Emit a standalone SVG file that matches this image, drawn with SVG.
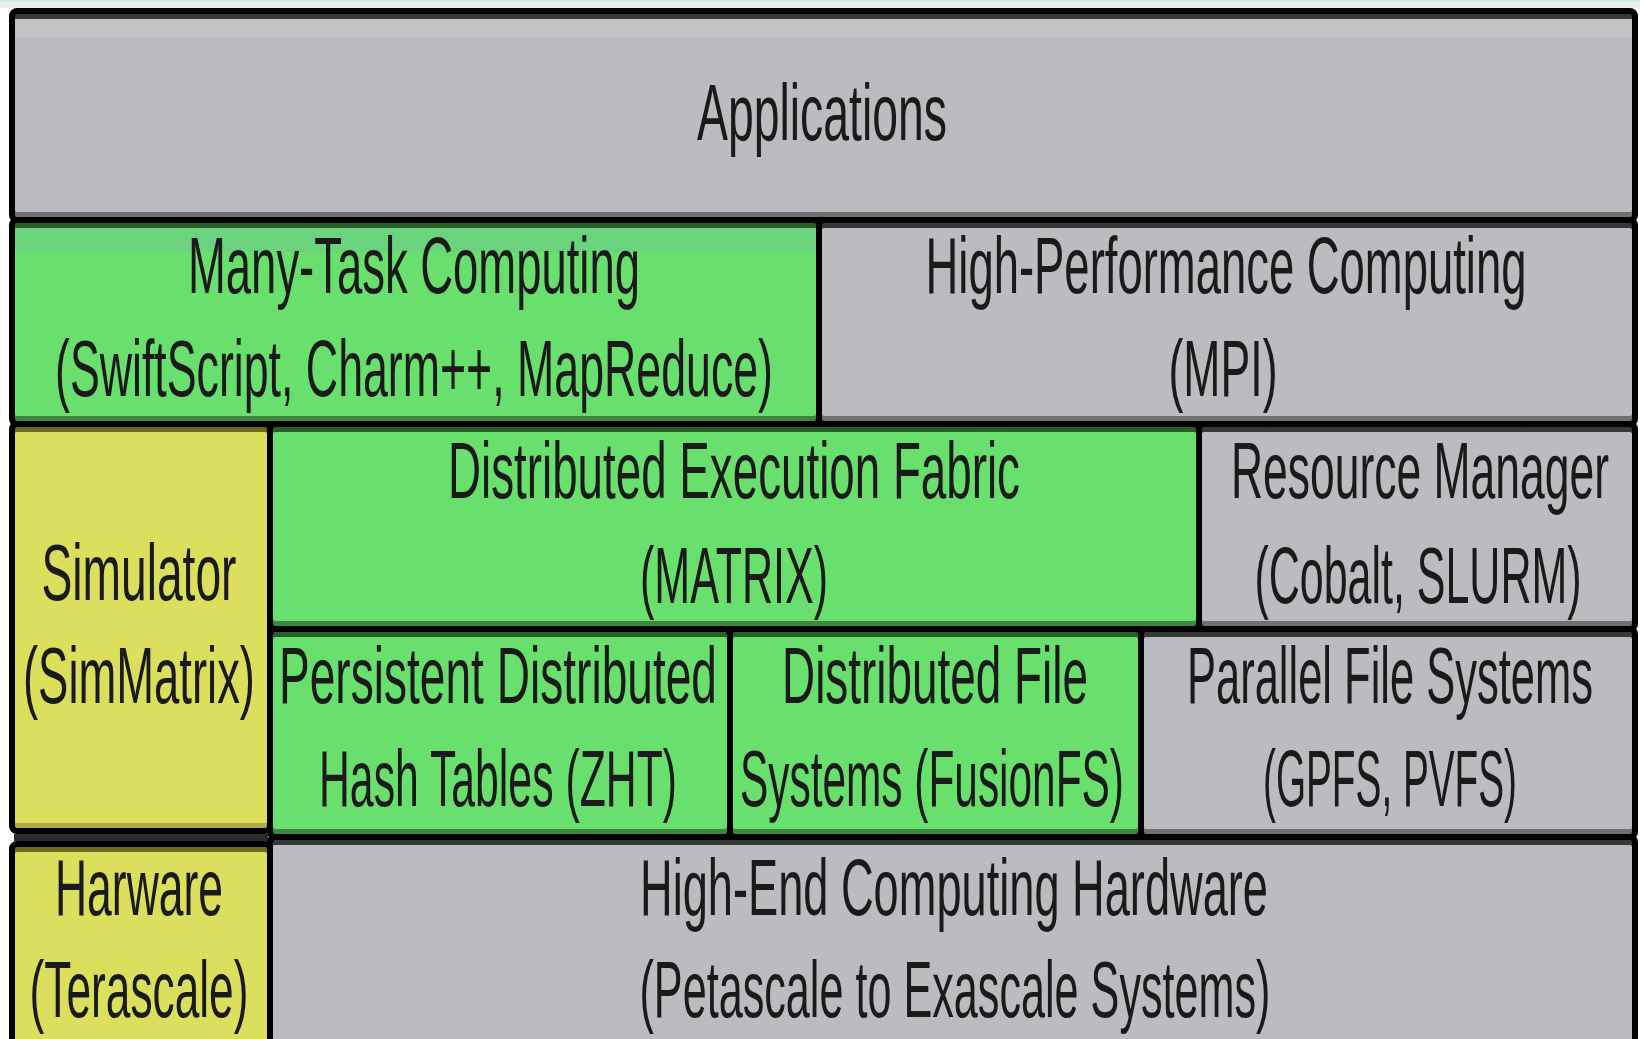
<svg xmlns="http://www.w3.org/2000/svg" width="1640" height="1039" viewBox="0 0 1640 1039">
  <defs>
    <linearGradient id="shGray" x1="0" y1="0" x2="0" y2="1">
      <stop offset="0" stop-color="#363636"/>
      <stop offset="1" stop-color="#727272"/>
    </linearGradient>
    <linearGradient id="shGreen" x1="0" y1="0" x2="0" y2="1">
      <stop offset="0" stop-color="#285c28"/>
      <stop offset="1" stop-color="#3e883e"/>
    </linearGradient>
    <linearGradient id="shYellow" x1="0" y1="0" x2="0" y2="1">
      <stop offset="0" stop-color="#6c681e"/>
      <stop offset="1" stop-color="#aeac46"/>
    </linearGradient>
    <style>
      .outer { stroke: #000; stroke-width: 6; }
      .g .outer { fill: url(#shGray); }
      .n .outer { fill: url(#shGreen); }
      .y .outer { fill: url(#shYellow); }
      .g .inner { fill: #bbbcc0; }
      .n .inner { fill: #69df6e; }
      .y .inner { fill: #dcde5e; }
      text { font-family: "Liberation Sans", Arial, sans-serif; font-size: 80px; fill: #1a1a1a; text-anchor: middle; }
    </style>
  </defs>
  <rect x="0" y="0" width="1640" height="1039" fill="#ffffff"/>
  <rect x="0" y="0" width="1640" height="2" fill="#cfe9ec"/>
  <rect x="0" y="2" width="1640" height="6" fill="#ececec"/>

  <g id="applications" class="g">
    <rect class="outer" x="12" y="11" width="1623" height="209" rx="5"/>
    <rect class="inner" x="15" y="19" width="1617" height="193" rx="2"/>
    <rect x="15" y="19" width="1617" height="18" fill="#c3c3c3"/>
    <g transform="scale(0.5 1)">
      <text x="1644" y="140" textLength="500" lengthAdjust="spacingAndGlyphs">Applications</text>
    </g>
  </g>

  <g id="many-task" class="n">
    <rect class="outer" x="12" y="220" width="807" height="204" rx="5"/>
    <rect class="inner" x="15" y="228" width="801" height="188" rx="2"/>
    <rect x="15" y="228" width="801" height="24" fill="#6bd27e"/>
    <g transform="scale(0.5 1)">
      <text x="828" y="293" textLength="904" lengthAdjust="spacingAndGlyphs">Many-Task Computing</text>
      <text x="828" y="396" textLength="1436" lengthAdjust="spacingAndGlyphs">(SwiftScript, Charm++, MapReduce)</text>
    </g>
  </g>

  <g id="hpc" class="g">
    <rect class="outer" x="819" y="220" width="816" height="204" rx="5"/>
    <rect class="inner" x="822" y="228" width="810" height="188" rx="2"/>
    <g transform="scale(0.5 1)">
      <text x="2452" y="293" textLength="1202" lengthAdjust="spacingAndGlyphs">High-Performance Computing</text>
      <text x="2446" y="396" textLength="218" lengthAdjust="spacingAndGlyphs">(MPI)</text>
    </g>
  </g>

  <g id="simulator" class="y">
    <rect class="outer" x="12" y="424" width="258" height="407" rx="5"/>
    <rect class="inner" x="15" y="432" width="252" height="391" rx="2"/>
    <g transform="scale(0.5 1)">
      <text x="278" y="600" textLength="390" lengthAdjust="spacingAndGlyphs">Simulator</text>
      <text x="278" y="703" textLength="464" lengthAdjust="spacingAndGlyphs">(SimMatrix)</text>
    </g>
  </g>

  <g id="execution-fabric" class="n">
    <rect class="outer" x="270" y="424" width="929" height="205" rx="5"/>
    <rect class="inner" x="273" y="432" width="923" height="189" rx="2"/>
    <g transform="scale(0.5 1)">
      <text x="1468" y="498" textLength="1144" lengthAdjust="spacingAndGlyphs">Distributed Execution Fabric</text>
      <text x="1468" y="603" textLength="376" lengthAdjust="spacingAndGlyphs">(MATRIX)</text>
    </g>
  </g>

  <g id="resource-manager" class="g">
    <rect class="outer" x="1199" y="424" width="436" height="205" rx="5"/>
    <rect class="inner" x="1202" y="432" width="430" height="189" rx="2"/>
    <g transform="scale(0.5 1)">
      <text x="2840" y="498" textLength="756" lengthAdjust="spacingAndGlyphs">Resource Manager</text>
      <text x="2836" y="603" textLength="654" lengthAdjust="spacingAndGlyphs">(Cobalt, SLURM)</text>
    </g>
  </g>

  <g id="hash-tables" class="n">
    <rect class="outer" x="270" y="629" width="460" height="208" rx="5"/>
    <rect class="inner" x="273" y="637" width="454" height="192" rx="2"/>
    <g transform="scale(0.5 1)">
      <text x="996" y="703" textLength="876" lengthAdjust="spacingAndGlyphs">Persistent Distributed</text>
      <text x="996" y="806" textLength="716" lengthAdjust="spacingAndGlyphs">Hash Tables (ZHT)</text>
    </g>
  </g>

  <g id="dist-file-systems" class="n">
    <rect class="outer" x="730" y="629" width="411" height="208" rx="5"/>
    <rect class="inner" x="733" y="637" width="405" height="192" rx="2"/>
    <g transform="scale(0.5 1)">
      <text x="1870" y="703" textLength="612" lengthAdjust="spacingAndGlyphs">Distributed File</text>
      <text x="1864" y="806" textLength="768" lengthAdjust="spacingAndGlyphs">Systems (FusionFS)</text>
    </g>
  </g>

  <g id="parallel-file-systems" class="g">
    <rect class="outer" x="1141" y="629" width="494" height="208" rx="5"/>
    <rect class="inner" x="1144" y="637" width="488" height="192" rx="2"/>
    <g transform="scale(0.5 1)">
      <text x="2780" y="703" textLength="812" lengthAdjust="spacingAndGlyphs">Parallel File Systems</text>
      <text x="2780" y="806" textLength="508" lengthAdjust="spacingAndGlyphs">(GPFS, PVFS)</text>
    </g>
  </g>

  <rect x="14" y="834" width="254" height="7" fill="#2b2b2b"/>

  <g id="hardware" class="y">
    <rect class="outer" x="12" y="844" width="258" height="200" rx="5"/>
    <rect class="inner" x="15" y="852" width="252" height="190" rx="2"/>
    <g transform="scale(0.5 1)">
      <text x="278" y="915" textLength="336" lengthAdjust="spacingAndGlyphs">Harware</text>
      <text x="278" y="1017" textLength="438" lengthAdjust="spacingAndGlyphs">(Terascale)</text>
    </g>
  </g>

  <g id="hec-hardware" class="g">
    <rect class="outer" x="270" y="837" width="1365" height="207" rx="5"/>
    <rect class="inner" x="273" y="845" width="1359" height="197" rx="2"/>
    <g transform="scale(0.5 1)">
      <text x="1908" y="915" textLength="1256" lengthAdjust="spacingAndGlyphs">High-End Computing Hardware</text>
      <text x="1910" y="1017" textLength="1262" lengthAdjust="spacingAndGlyphs">(Petascale to Exascale Systems)</text>
    </g>
  </g>

  <g id="connectors"></g>
</svg>
